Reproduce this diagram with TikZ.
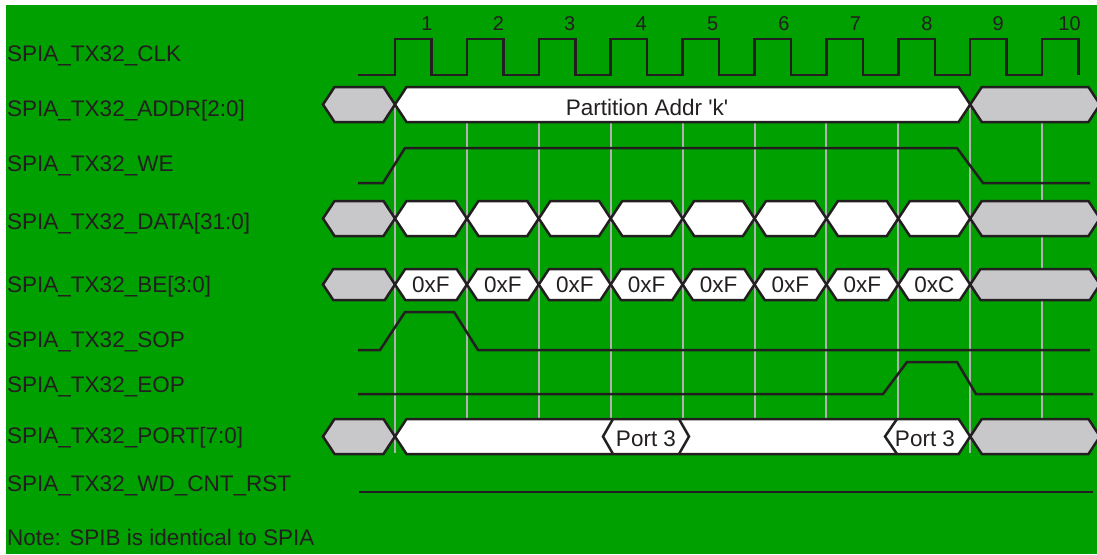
\documentclass[tikz,border=0pt]{standalone}
\usepackage{fontspec}
\setmainfont{Liberation Sans}
\usetikzlibrary{positioning}
\definecolor{boardgreen}{RGB}{0,160,0}
\definecolor{busgray}{RGB}{200,200,202}
\definecolor{gridgray}{RGB}{178,178,178}
\definecolor{ink}{RGB}{35,31,32}

\begin{document}
\begin{tikzpicture}[x=1pt, y=-1pt,
    sig/.style={ink, line width=2.5pt, line join=miter},
    bus/.style={draw=ink, line width=2.5pt, line join=miter},
    grid/.style={gridgray, line width=2pt},
    lbl/.style={anchor=base west, inner sep=0pt, text=ink, font=\fontsize{22.5}{27}\selectfont},
    val/.style={anchor=base, inner sep=0pt, text=ink, font=\fontsize{22.5}{27}\selectfont},
    num/.style={anchor=base, inner sep=0pt, text=ink, font=\fontsize{20}{24}\selectfont}]
    % Page and board colour
    \useasboundingbox (0,0) rectangle (1097,554);
    \fill[boardgreen] (6,5) rectangle (1097,554);

    % Clock period and first rising edge
    \def\T{71.9}
    \def\E{395}

    % Bus segment: left point, right point, centre y, half height, fill
    \def\hexbus#1#2#3#4#5{%
      \filldraw[bus, fill=#5] ({#1},{#3}) -- ({#1+0.66*#4},{#3-#4}) -- ({#2-0.66*#4},{#3-#4})
        -- ({#2},{#3}) -- ({#2-0.66*#4},{#3+#4}) -- ({#1+0.66*#4},{#3+#4}) -- cycle;}

    % Signal names
    \node[lbl] (clk)   at (7,61)  {SPIA\_TX32\_CLK};
    \node[lbl] (addr)  at (7,116) {SPIA\_TX32\_ADDR[2:0]};
    \node[lbl] (we)    at (7,171) {SPIA\_TX32\_WE};
    \node[lbl] (data)  at (7,229) {SPIA\_TX32\_DATA[31:0]};
    \node[lbl] (be)    at (7,292) {SPIA\_TX32\_BE[3:0]};
    \node[lbl] (sop)   at (7,347) {SPIA\_TX32\_SOP};
    \node[lbl] (eop)   at (7,392) {SPIA\_TX32\_EOP};
    \node[lbl] (port)  at (7,443) {SPIA\_TX32\_PORT[7:0]};
    \node[lbl] (wdrst) at (7,491) {SPIA\_TX32\_WD\_CNT\_RST};
    \node[lbl] (note)  at (7,545) {Note: SPIB is identical to SPIA};

    % Cycle numbers
    \foreach \k in {1,...,10}
      \node[num] (cyc\k) at ({427+(\k-1)*71.4},30) {\k};

    % Grey lines on the rising edges
    \foreach \k in {0,...,9}
      \draw[grid] ({\E+\k*\T},105) -- ({\E+\k*\T},453);

    % CLK
    \draw[sig] (358,75) foreach \k in {0,...,9} {
      -- ({\E+\k*\T},75) -- ({\E+\k*\T},39) -- ({\E+\k*\T+36.5},39) -- ({\E+\k*\T+36.5},75) };

    % ADDR: one address over the whole burst
    \hexbus{323}{\E}{104.5}{17.5}{busgray}
    \hexbus{\E}{\E+8*\T}{104.5}{17.5}{white}
    \hexbus{\E+8*\T}{1100}{104.5}{17.5}{busgray}
    \node[val] (addrk) at (647,115) {Partition Addr \textquotesingle k\textquotesingle};

    % WE
    \draw[sig] (358,183) -- (383,183) -- (405,148) -- (957,148) -- (983,183) -- (1090,183);

    % DATA: eight words
    \hexbus{323}{\E}{218.5}{17.5}{busgray}
    \foreach \k in {0,...,7} {
      \hexbus{\E+\k*\T}{\E+\k*\T+\T}{218.5}{17.5}{white}
    }
    \hexbus{\E+8*\T}{1100}{218.5}{17.5}{busgray}

    % BE: all bytes, last word three bytes
    \hexbus{323}{\E}{284.5}{15.5}{busgray}
    \foreach \k/\v in {0/0xF,1/0xF,2/0xF,3/0xF,4/0xF,5/0xF,6/0xF,7/0xC} {
      \hexbus{\E+\k*\T}{\E+\k*\T+\T}{284.5}{15.5}{white}
      \node[val] (be\k) at ({\E+\k*\T+\T/2},292) {\v};
    }
    \hexbus{\E+8*\T}{1100}{284.5}{15.5}{busgray}

    % SOP
    \draw[sig] (358,350) -- (380,350) -- (405,312) -- (454,312) -- (478,350) -- (1090,350);

    % EOP
    \draw[sig] (358,394) -- (883,394) -- (907,362) -- (957,362) -- (976,394) -- (1093,394);

    % PORT
    \hexbus{323}{\E}{436.5}{17.5}{busgray}
    \hexbus{\E}{\E+8*\T}{436.5}{17.5}{white}
    \hexbus{\E+8*\T}{1100}{436.5}{17.5}{busgray}
    \draw[sig] (613,419) -- (603,436.5) -- (613,454);
    \draw[sig] (679,419) -- (689,436.5) -- (679,454);
    \draw[sig] (897,419) -- (885,436.5) -- (897,454);
    \node[val] (port3a) at (646,446) {Port 3};
    \node[val] (port3b) at (925,446) {Port 3};

    % WD_CNT_RST
    \draw[sig] (359,492) -- (1093,492);
\end{tikzpicture}
\end{document}
